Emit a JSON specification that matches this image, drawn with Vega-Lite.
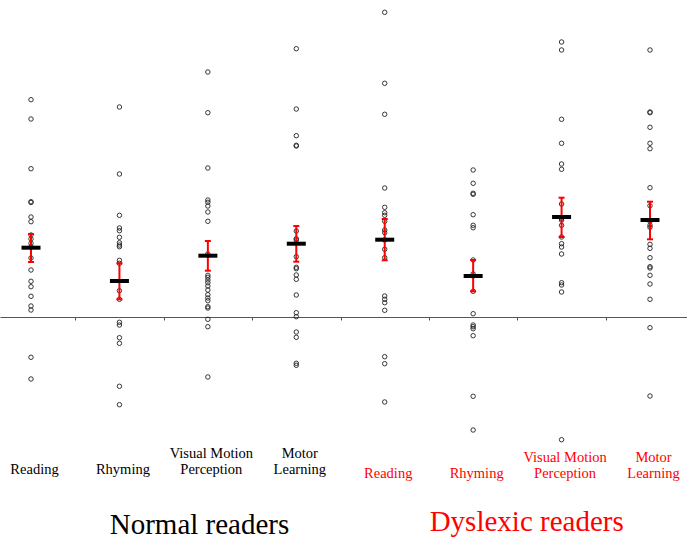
{
  "$schema": "https://vega.github.io/schema/vega-lite/v6.json",
  "width": 687,
  "height": 445,
  "autosize": "none",
  "padding": {"left": 0, "top": 0, "right": 0, "bottom": 97},
  "background": "white",
  "config": {"view": {"stroke": null}, "font": "Liberation Serif"},
  "datasets": {
    "points": [
      {"c": 1, "v": 2.173}, {"c": 1, "v": 1.98}, {"c": 1, "v": 1.483}, {"c": 1, "v": 1.153}, {"c": 1, "v": 1.145}, {"c": 1, "v": 1.0}, {"c": 1, "v": 0.953}, {"c": 1, "v": 0.82}, {"c": 1, "v": 0.78}, {"c": 1, "v": 0.737}, {"c": 1, "v": 0.7}, {"c": 1, "v": 0.59}, {"c": 1, "v": 0.47}, {"c": 1, "v": 0.357}, {"c": 1, "v": 0.303}, {"c": 1, "v": 0.207}, {"c": 1, "v": 0.11}, {"c": 1, "v": 0.07}, {"c": 1, "v": -0.403}, {"c": 1, "v": -0.62},
      {"c": 2, "v": 2.1}, {"c": 2, "v": 1.43}, {"c": 2, "v": 1.017}, {"c": 2, "v": 0.89}, {"c": 2, "v": 0.863}, {"c": 2, "v": 0.797}, {"c": 2, "v": 0.743}, {"c": 2, "v": 0.72}, {"c": 2, "v": 0.703}, {"c": 2, "v": 0.567}, {"c": 2, "v": 0.537}, {"c": 2, "v": 0.263}, {"c": 2, "v": 0.177}, {"c": 2, "v": -0.053}, {"c": 2, "v": -0.08}, {"c": 2, "v": -0.207}, {"c": 2, "v": -0.263}, {"c": 2, "v": -0.693}, {"c": 2, "v": -0.877},
      {"c": 3, "v": 2.45}, {"c": 3, "v": 2.043}, {"c": 3, "v": 1.49}, {"c": 3, "v": 1.17}, {"c": 3, "v": 1.147}, {"c": 3, "v": 1.11}, {"c": 3, "v": 1.05}, {"c": 3, "v": 0.957}, {"c": 3, "v": 0.63}, {"c": 3, "v": 0.417}, {"c": 3, "v": 0.397}, {"c": 3, "v": 0.37}, {"c": 3, "v": 0.343}, {"c": 3, "v": 0.31}, {"c": 3, "v": 0.27}, {"c": 3, "v": 0.223}, {"c": 3, "v": 0.19}, {"c": 3, "v": 0.163}, {"c": 3, "v": 0.103}, {"c": 3, "v": 0.09}, {"c": 3, "v": -0.023}, {"c": 3, "v": -0.097}, {"c": 3, "v": -0.6},
      {"c": 4, "v": 2.683}, {"c": 4, "v": 2.08}, {"c": 4, "v": 1.813}, {"c": 4, "v": 1.717}, {"c": 4, "v": 1.71}, {"c": 4, "v": 0.86}, {"c": 4, "v": 0.783}, {"c": 4, "v": 0.77}, {"c": 4, "v": 0.603}, {"c": 4, "v": 0.497}, {"c": 4, "v": 0.483}, {"c": 4, "v": 0.42}, {"c": 4, "v": 0.377}, {"c": 4, "v": 0.22}, {"c": 4, "v": 0.043}, {"c": 4, "v": 0.003}, {"c": 4, "v": -0.15}, {"c": 4, "v": -0.203}, {"c": 4, "v": -0.463}, {"c": 4, "v": -0.483},
      {"c": 5, "v": 3.047}, {"c": 5, "v": 2.337}, {"c": 5, "v": 2.027}, {"c": 5, "v": 1.29}, {"c": 5, "v": 1.097}, {"c": 5, "v": 1.043}, {"c": 5, "v": 1.017}, {"c": 5, "v": 0.957}, {"c": 5, "v": 0.87}, {"c": 5, "v": 0.843}, {"c": 5, "v": 0.77}, {"c": 5, "v": 0.677}, {"c": 5, "v": 0.593}, {"c": 5, "v": 0.21}, {"c": 5, "v": 0.177}, {"c": 5, "v": 0.143}, {"c": 5, "v": 0.067}, {"c": 5, "v": -0.397}, {"c": 5, "v": -0.467}, {"c": 5, "v": -0.85},
      {"c": 6, "v": 1.47}, {"c": 6, "v": 1.337}, {"c": 6, "v": 1.237}, {"c": 6, "v": 1.227}, {"c": 6, "v": 1.023}, {"c": 6, "v": 0.917}, {"c": 6, "v": 0.893}, {"c": 6, "v": 0.57}, {"c": 6, "v": 0.43}, {"c": 6, "v": 0.41}, {"c": 6, "v": 0.257}, {"c": 6, "v": 0.033}, {"c": 6, "v": -0.08}, {"c": 6, "v": -0.097}, {"c": 6, "v": -0.117}, {"c": 6, "v": -0.187}, {"c": 6, "v": -0.793}, {"c": 6, "v": -1.13},
      {"c": 7, "v": 2.75}, {"c": 7, "v": 2.67}, {"c": 7, "v": 1.977}, {"c": 7, "v": 1.737}, {"c": 7, "v": 1.53}, {"c": 7, "v": 1.477}, {"c": 7, "v": 1.13}, {"c": 7, "v": 0.987}, {"c": 7, "v": 0.97}, {"c": 7, "v": 0.917}, {"c": 7, "v": 0.8}, {"c": 7, "v": 0.733}, {"c": 7, "v": 0.7}, {"c": 7, "v": 0.63}, {"c": 7, "v": 0.343}, {"c": 7, "v": 0.32}, {"c": 7, "v": 0.25}, {"c": 7, "v": -1.227},
      {"c": 8, "v": 2.67}, {"c": 8, "v": 2.05}, {"c": 8, "v": 2.043}, {"c": 8, "v": 1.897}, {"c": 8, "v": 1.737}, {"c": 8, "v": 1.683}, {"c": 8, "v": 1.293}, {"c": 8, "v": 1.113}, {"c": 8, "v": 0.957}, {"c": 8, "v": 0.917}, {"c": 8, "v": 0.897}, {"c": 8, "v": 0.727}, {"c": 8, "v": 0.687}, {"c": 8, "v": 0.593}, {"c": 8, "v": 0.503}, {"c": 8, "v": 0.49}, {"c": 8, "v": 0.417}, {"c": 8, "v": 0.33}, {"c": 8, "v": 0.177}, {"c": 8, "v": -0.107}, {"c": 8, "v": -0.79}
    ],
    "stats": [
      {"c": 1, "mean": 0.693, "lo": 0.55, "hi": 0.83},
      {"c": 2, "mean": 0.36, "lo": 0.177, "hi": 0.537},
      {"c": 3, "mean": 0.613, "lo": 0.463, "hi": 0.76},
      {"c": 4, "mean": 0.733, "lo": 0.553, "hi": 0.91},
      {"c": 5, "mean": 0.773, "lo": 0.567, "hi": 0.98},
      {"c": 6, "mean": 0.41, "lo": 0.257, "hi": 0.57},
      {"c": 7, "mean": 1.0, "lo": 0.8, "hi": 1.193},
      {"c": 8, "mean": 0.97, "lo": 0.777, "hi": 1.153}
    ]
  },
  "resolve": {"axis": {"x": "independent"}},
  "layer": [
    {
      "data": {"name": "points"},
      "mark": {"type": "point", "shape": "circle", "filled": false, "stroke": "#222222", "strokeWidth": 0.9, "size": 20, "opacity": 1},
      "encoding": {
        "x": {"field": "c", "type": "quantitative", "scale": {"domain": [0.6494, 8.4184], "nice": false, "zero": false},
          "axis": {"orient": "bottom", "offset": -128, "title": null, "labels": false, "grid": false, "domain": true, "domainColor": "#555555", "domainWidth": 1, "ticks": true, "tickColor": "#555555", "tickSize": 3, "values": [1.5, 2.5, 3.5, 4.5, 5.5, 6.5, 7.5]}},
        "y": {"field": "v", "type": "quantitative", "scale": {"domain": [-1.28, 3.17], "nice": false, "zero": false}, "axis": null}
      }
    },
    {
      "data": {"name": "stats"},
      "mark": {"type": "rule", "color": "#ff0000", "strokeWidth": 2, "opacity": 1},
      "encoding": {
        "x": {"field": "c", "type": "quantitative", "scale": {"domain": [0.6494, 8.4184], "nice": false, "zero": false},
          "axis": {"orient": "bottom", "title": null, "grid": false, "domain": false, "ticks": false, "values": [1, 2, 3, 4, 5, 6, 7, 8],
            "labelExpr": "datum.value == 1 || datum.value == 5 ? ['', 'Reading'] : datum.value == 2 || datum.value == 6 ? ['', 'Rhyming'] : datum.value == 3 || datum.value == 7 ? ['Visual Motion', 'Perception'] : ['Motor', 'Learning']",
            "labelFont": "Liberation Serif", "labelFontSize": 14.5, "labelLineHeight": 16, "labelBaseline": "alphabetic", "labelAlign": "center", "labelOffset": 3, "labelLimit": 0,
            "labelOverlap": false, "labelBound": false, "labelFlush": false,
            "labelColor": {"condition": {"test": "datum.value > 4.5", "value": "#ff0000"}, "value": "#000000"},
            "labelPadding": {"condition": {"test": "datum.value > 4.5", "value": 16}, "value": 12}}},
        "y": {"field": "lo", "type": "quantitative", "scale": {"domain": [-1.28, 3.17], "nice": false, "zero": false}, "axis": null},
        "y2": {"field": "hi"}
      }
    },
    {
      "data": {"name": "stats"},
      "mark": {"type": "tick", "orient": "horizontal", "color": "#ff0000", "size": 6, "thickness": 2, "opacity": 1},
      "encoding": {
        "x": {"field": "c", "type": "quantitative", "scale": {"domain": [0.6494, 8.4184], "nice": false, "zero": false},
          "axis": {"orient": "bottom", "title": null, "grid": false, "domain": false, "ticks": false, "values": [2.9, 6.6],
            "labelExpr": "datum.value < 4 ? 'Normal readers' : 'Dyslexic readers'",
            "labelFont": "Liberation Serif", "labelFontSize": 29, "labelBaseline": "alphabetic", "labelAlign": "center", "labelLimit": 0,
            "labelOverlap": false, "labelBound": false, "labelFlush": false,
            "labelColor": {"condition": {"test": "datum.value > 4", "value": "#ff0000"}, "value": "#000000"},
            "labelPadding": {"condition": {"test": "datum.value > 4", "value": 85}, "value": 88}}},
        "y": {"field": "lo", "type": "quantitative", "scale": {"domain": [-1.28, 3.17], "nice": false, "zero": false}, "axis": null}
      }
    },
    {
      "data": {"name": "stats"},
      "mark": {"type": "tick", "orient": "horizontal", "color": "#ff0000", "size": 6, "thickness": 2, "opacity": 1},
      "encoding": {
        "x": {"field": "c", "type": "quantitative", "scale": {"domain": [0.6494, 8.4184], "nice": false, "zero": false}, "axis": null},
        "y": {"field": "hi", "type": "quantitative", "scale": {"domain": [-1.28, 3.17], "nice": false, "zero": false}, "axis": null}
      }
    },
    {
      "data": {"name": "stats"},
      "mark": {"type": "tick", "orient": "horizontal", "color": "#000000", "size": 19, "thickness": 4, "opacity": 1},
      "encoding": {
        "x": {"field": "c", "type": "quantitative", "scale": {"domain": [0.6494, 8.4184], "nice": false, "zero": false}, "axis": null},
        "y": {"field": "mean", "type": "quantitative", "scale": {"domain": [-1.28, 3.17], "nice": false, "zero": false}, "axis": null}
      }
    }
  ]
}
